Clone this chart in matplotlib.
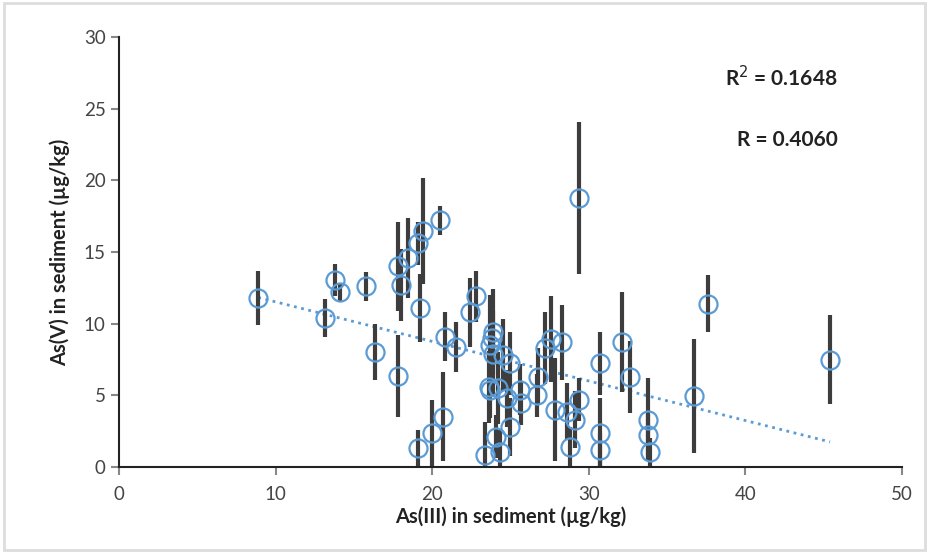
import matplotlib.pyplot as plt
import numpy as np

plt.rcParams['font.family'] = ['Lato', 'DejaVu Sans']

# As(III) vs As(V) in sediment, with spread of As(V) per sample
as3 = [8.9, 13.15, 13.8, 14.1, 15.8, 16.35, 17.8, 18.0, 17.8, 18.45,
       19.1, 19.4, 20.5, 19.2, 20.8, 21.5, 22.4, 22.8, 19.1, 20.0,
       20.7, 23.4, 24.3, 24.1, 25.0, 23.9, 23.8, 23.7, 23.9, 24.5,
       25.0, 23.6, 23.7, 24.2, 24.8, 25.6, 25.7, 26.75, 26.7, 27.2,
       27.6, 28.3, 27.85, 28.6, 29.1, 29.4, 28.8, 29.4, 30.7, 30.7,
       30.7, 32.1, 32.6, 33.8, 33.8, 33.9, 36.7, 37.6, 45.4]
as5 = [11.8, 10.4, 13.05, 12.2, 12.6, 8.0, 14.0, 12.7, 6.35, 14.6,
       15.6, 16.5, 17.2, 11.1, 9.1, 8.4, 10.8, 11.9, 1.3, 2.4,
       3.5, 0.85, 1.05, 2.1, 2.8, 9.4, 9.0, 8.5, 7.9, 7.8,
       7.25, 5.6, 5.4, 5.5, 4.8, 5.4, 4.45, 6.3, 5.0, 8.3,
       8.9, 8.7, 4.0, 3.85, 3.3, 4.7, 1.4, 18.75, 7.25, 2.4,
       1.2, 8.7, 6.3, 3.3, 2.2, 1.05, 4.95, 11.4, 7.5]
as5_err = [1.9, 1.3, 1.1, 0.6, 1.0, 1.95, 3.1, 2.5, 2.85, 2.8,
           1.5, 3.7, 1.0, 2.4, 1.7, 1.75, 2.4, 1.8, 1.3, 2.3,
           3.1, 2.3, 1.5, 1.5, 2.0, 3.0, 3.0, 3.5, 3.0, 2.5,
           2.2, 2.5, 2.0, 2.5, 2.0, 1.8, 1.5, 2.0, 1.5, 2.5,
           3.0, 2.6, 3.6, 2.0, 2.0, 1.5, 1.4, 5.3, 2.2, 2.4,
           1.2, 3.5, 2.5, 2.9, 1.5, 1.0, 3.95, 2.0, 3.1]

fig = plt.figure(figsize=(9.29, 5.53), dpi=100)
ax = fig.add_axes([0.128, 0.1555, 0.843, 0.7775])

x = np.array(as3)
y = np.array(as5)
e = np.array(as5_err)
lo = np.minimum(e, y)  # bars stop at zero

ax.errorbar(x, y, yerr=[lo, e], fmt='none', ecolor='#3d3d3d', elinewidth=3, capsize=0, zorder=2)
ax.plot(x, y, 'o', mfc='none', mec='#5b9bd5', ms=13, mew=1.6, zorder=3)

# linear trend
k, b = np.polyfit(x, y, 1)
xx = np.array([x.min(), x.max()])
ax.plot(xx, k * xx + b, ':', color='#5b9bd5', lw=2, zorder=1)

ax.text(0.918, 0.905, 'R$^2$ = 0.1648', transform=ax.transAxes, ha='right', va='center',
        fontsize=15, fontweight='bold', color='#222222')
ax.text(0.918, 0.76, 'R = 0.4060', transform=ax.transAxes, ha='right', va='center',
        fontsize=15, fontweight='bold', color='#222222')

ax.set_xlim(0, 50)
ax.set_ylim(0, 30)
ax.set_xticks(range(0, 51, 10))
ax.set_yticks(range(0, 31, 5))
for s in ['top', 'right']:
    ax.spines[s].set_visible(False)
for s in ['left', 'bottom']:
    ax.spines[s].set_color('#222222')
    ax.spines[s].set_linewidth(1.5)
ax.tick_params(direction='out', length=6, width=1.5, color='#888888', labelsize=13.5, labelcolor='#444444')
ax.tick_params(axis='x', pad=8)

ax.set_xlabel('As(III) in sediment (µg/kg)', fontsize=14.5, fontweight='bold', color='#222222', labelpad=2)
ax.set_ylabel('As(V) in sediment (µg/kg)', fontsize=14.5, fontweight='bold', color='#222222', labelpad=10)

fig.patches.append(plt.Rectangle((0.004, 0.006), 0.992, 0.988, transform=fig.transFigure,
                                 fill=False, edgecolor='#dddddd', lw=2))

fig.savefig('out.png', dpi=100)
